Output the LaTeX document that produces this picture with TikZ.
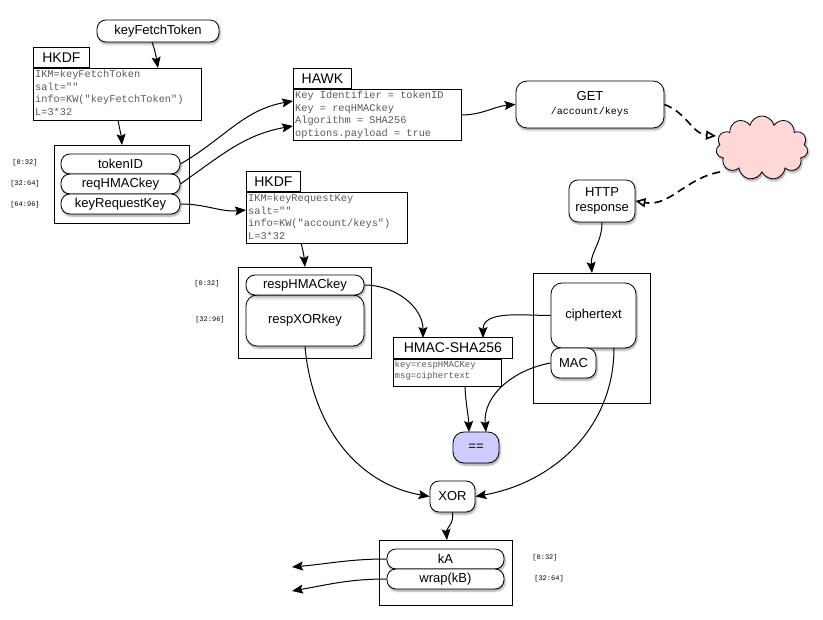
\documentclass[tikz,border=0pt]{standalone}
\usepackage{fontspec}
\setmainfont{Liberation Sans}
\setmonofont{Liberation Mono}
\usetikzlibrary{shapes.symbols,arrows.meta,shadows.blur}
\definecolor{lav}{RGB}{204,204,255}
\definecolor{pinkc}{RGB}{255,215,215}
\definecolor{codec}{RGB}{90,90,90}
\begin{document}
\begin{tikzpicture}[x=1pt,y=-1pt,
  >={Stealth[length=11pt,width=9pt,inset=2pt]},
  conn/.style={->,line width=1pt},
  dconn/.style={-{Triangle[open,length=10pt,width=9pt]},line width=1.6pt,dash pattern=on 8pt off 5pt},
  pill/.style={draw,thick,rounded corners=9pt,fill=white,font=\fontsize{13}{14}\selectfont,blur shadow={shadow blur steps=5,shadow xshift=1pt,shadow yshift=-2pt}},
  rbox/.style={draw,thick,rounded corners=11pt,fill=white,font=\fontsize{13}{15}\selectfont,align=center,blur shadow={shadow blur steps=5,shadow xshift=1pt,shadow yshift=-2pt}},
  titlebox/.style={draw,thick,fill=white,font=\fontsize{14}{15}\selectfont,anchor=south west,inner sep=0pt},
  codebox/.style={draw,thick,fill=white},
  code/.style={font=\ttfamily\fontsize{10.3}{12.6}\selectfont,text=codec,align=left,anchor=north west,inner sep=2pt},
  frame/.style={draw,thick},
  rng/.style={font=\ttfamily\fontsize{7}{8}\selectfont}]
\useasboundingbox (0,0) rectangle (823,620);

% keyFetchToken
\node[pill,minimum width=122pt,minimum height=22pt] (kft) at (158,31) {keyFetchToken};
% HKDF1
\draw[codebox] (33,68) rectangle (201,120);
\node[titlebox,minimum width=56pt,minimum height=20pt] (h1t) at (33,68) {HKDF};
\node[code] (h1) at (33,68) {IKM=keyFetchToken\\salt=""\\info=KW("keyFetchToken")\\L=3*32};
\coordinate (kftb) at (152,42);
\coordinate (h1top) at (158,68);
\coordinate (h1bot) at (118,120);
% box1
\draw[frame] (54,145) rectangle (189,223);
\coordinate (b1top) at (122,145);
\node[pill,minimum width=119pt,minimum height=20pt] (tid) at (120.5,164) {tokenID};
\node[pill,minimum width=119pt,minimum height=20pt] (rhk) at (120.5,184) {reqHMACkey};
\node[pill,minimum width=119pt,minimum height=20pt] (krk) at (120.5,204) {keyRequestKey};
\node[rng] (r1) at (25,163) {[0:32]};
\node[rng] (r2) at (25,184) {[32:64]};
\node[rng] (r3) at (25,205) {[64:96]};
% HAWK
\draw[codebox] (293,89) rectangle (461,140);
\node[titlebox,minimum width=58pt,minimum height=20pt] (hawkt) at (293,89) {HAWK};
\node[code] (hawk) at (293,89) {Key Identifier = tokenID\\Key = reqHMACkey\\Algorithm = SHA256\\options.payload = true};
\coordinate (hawk1) at (293,101);
\coordinate (hawk2) at (293,126);
\coordinate (hawkR) at (461,115);
% HKDF2
\draw[codebox] (246,192) rectangle (407,243);
\node[titlebox,minimum width=54pt,minimum height=20pt] (h2t) at (246,192) {HKDF};
\node[code] (h2) at (246,192) {IKM=keyRequestKey\\salt=""\\info=KW("account/keys")\\L=3*32};
\coordinate (h2L) at (246,210);
\coordinate (h2bot) at (301,243);
% box2
\draw[frame] (238,267) rectangle (371,358);
\coordinate (b2top) at (305,267);
\node[rbox,minimum width=118pt,minimum height=51pt] (rxk) at (305,320.5) {respXORkey};
\node[pill,minimum width=118pt,minimum height=20pt] (rhm) at (305,285) {respHMACkey};
\node[rng] (r4) at (207,284) {[0:32]};
\node[rng] (r5) at (210,320) {[32:96]};
% HMAC
\draw[codebox] (393,359) rectangle (501,386);
\node[titlebox,minimum width=119pt,minimum height=21pt] (hmt) at (393,359) {HMAC-SHA256};
\node[code,font=\ttfamily\fontsize{9}{11.5}\selectfont,inner sep=1.5pt] (hm) at (393,359) {key=respHMACKey\\msg=ciphertext};
\coordinate (hmtop1) at (423,338);
\coordinate (hmtop2) at (483,338);
\coordinate (hmbot) at (465,386);
% GET
\node[rbox,minimum width=148pt,minimum height=47pt] (get) at (590,104.5) {GET\\[-1pt]{\ttfamily\fontsize{10}{12}\selectfont /account/keys}};
% cloud
\node[cloud,cloud puffs=11,draw,thick,fill=pinkc,minimum width=92pt,minimum height=64pt,blur shadow={shadow blur steps=5,shadow xshift=1pt,shadow yshift=-2pt}] (cl) at (762,148) {};
\coordinate (clin) at (716,136);
\coordinate (clout) at (720,172);
% HTTP response
\node[rbox,minimum width=66pt,minimum height=42pt,rounded corners=9pt] (http) at (602,201) {HTTP\\response};
% box3
\draw[frame] (533,273) rectangle (650,403);
\coordinate (b3top) at (592,273);
\node[rbox,minimum width=85pt,minimum height=65pt] (ct) at (593.5,315.5) {ciphertext};
\node[rbox,minimum width=45pt,minimum height=30pt,rounded corners=9pt] (mac) at (573.5,363) {MAC};
% ==
\node[rbox,fill=lav,minimum width=46pt,minimum height=31pt] (eq) at (476,447.5) {==};
\coordinate (eq1) at (469,432);
\coordinate (eq2) at (486,432);
% XOR
\node[rbox,minimum width=45pt,minimum height=31pt,rounded corners=9pt] (xor) at (452.5,496.5) {XOR};
\coordinate (ctb) at (614,348);
% box4
\draw[frame] (379,540) rectangle (512,605);
\coordinate (b4top) at (447,540);
\node[pill,minimum width=117pt,minimum height=20pt] (ka) at (445.5,559) {kA};
\node[pill,minimum width=117pt,minimum height=20pt] (wkb) at (445.5,579) {wrap(kB)};
\node[rng] (r6) at (545,558) {[0:32]};
\node[rng] (r7) at (549,579) {[32:64]};
\coordinate (out1) at (292,567);
\coordinate (out2) at (292,591);

% connectors
\draw[conn] (kftb) to[out=-70,in=100] (h1top);
\draw[conn] (h1bot) to[out=-80,in=95] (b1top);
\draw[conn] (tid.east) to[out=30,in=190] (hawk1);
\draw[conn] (rhk.east) to[out=35,in=190] (hawk2);
\draw[conn] (krk.east) to[out=0,in=185] (h2L);
\draw[conn] (h2bot) to[out=-75,in=95] (b2top);
\draw[conn] (hawkR) to[out=0,in=185] (get.west);
\draw[dconn] (get.east) to[out=-20,in=175] (clin);
\draw[dconn] (clout) to[out=190,in=-10] (http.east);
\draw[conn] (http.south) to[out=-90,in=95] (b3top);
\draw[conn] (rhm.east) to[out=0,in=90] (hmtop1);
\draw[conn] (ct.west) to[out=180,in=90] (hmtop2);
\draw[conn] (hmbot) to[out=-88,in=92] (eq1);
\draw[conn] (mac.west) to[out=190,in=95] (eq2);
\draw[conn] (rxk.south) to[out=-85,in=170] (xor.west);
\draw[conn] (ctb) to[out=-90,in=10] (xor.east);
\draw[conn] (xor.south) to[out=-80,in=95] (b4top);
\draw[conn] (ka.west) to[out=180,in=5] (out1);
\draw[conn] (wkb.west) to[out=180,in=10] (out2);
\end{tikzpicture}
\end{document}
